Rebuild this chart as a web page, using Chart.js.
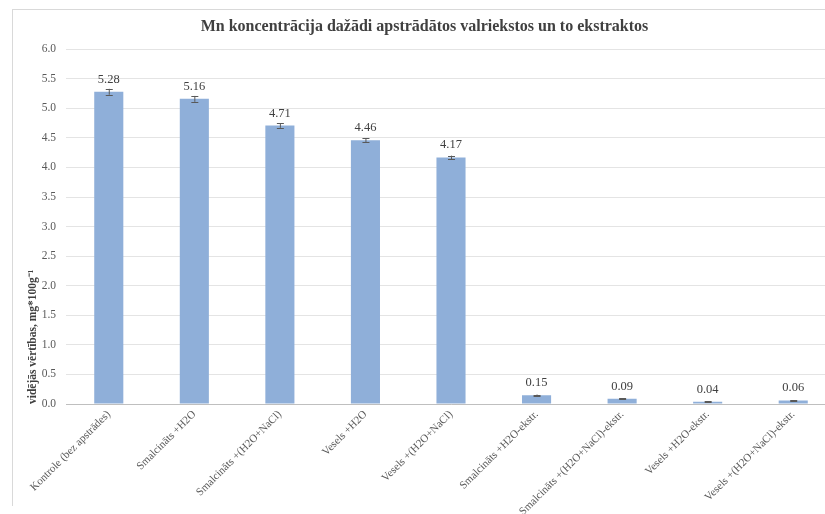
<!DOCTYPE html>
<html>
<head>
<meta charset="utf-8">
<script src="https://cdn.jsdelivr.net/npm/chart.js@4"></script>
<style>
  html, body { margin: 0; padding: 0; background: #fff; overflow: hidden; width: 825px; height: 514px; }
  #frame { position: absolute; left: 12px; top: 9px; width: 840px; height: 496px;
           border-left: 1px solid #d9d9d9; border-top: 1px solid #d9d9d9; }
  #mnChart { position: absolute; left: 0; top: 0; }
</style>
</head>
<body>
<div id="frame"><canvas id="mnChart" width="840" height="505"></canvas></div>
<script>
// Dati no attēla
const categories = [
    "Kontrole (bez apstrādes)",
    "Smalcināts +H2O",
    "Smalcināts +(H2O+NaCl)",
    "Vesels +H2O",
    "Vesels +(H2O+NaCl)",
    "Smalcināts +H2O-ekstr.",
    "Smalcināts +(H2O+NaCl)-ekstr.",
    "Vesels +H2O-ekstr.",
    "Vesels +(H2O+NaCl)-ekstr."
];
const meanValues = [5.28, 5.16, 4.71, 4.46, 4.17, 0.15, 0.09, 0.04, 0.06];
const errorValues = [0.05, 0.05, 0.04, 0.03, 0.03, 0.01, 0.005, 0.003, 0.005];
const yTicks = [0, 0.5, 1, 1.5, 2, 2.5, 3, 3.5, 4, 4.5, 5, 5.5, 6];

const serif = "'Liberation Serif', 'Times New Roman', serif";

// kļūdu joslas un vērtību etiķetes
const barExtras = {
    id: 'barExtras',
    afterDatasetsDraw(chart) {
        const ctx = chart.ctx;
        const y = chart.scales.y;
        const meta = chart.getDatasetMeta(0);
        ctx.save();
        meta.data.forEach((bar, i) => {
            const v = meanValues[i];
            const e = errorValues[i];
            const yTop = y.getPixelForValue(v + e);
            const yBot = y.getPixelForValue(v - e);
            ctx.strokeStyle = '#595959';
            ctx.lineWidth = 1;
            ctx.beginPath();
            ctx.moveTo(bar.x + 0.5, yTop);
            ctx.lineTo(bar.x + 0.5, yBot);
            ctx.moveTo(bar.x - 3, Math.round(yTop) + 0.5);
            ctx.lineTo(bar.x + 4, Math.round(yTop) + 0.5);
            ctx.moveTo(bar.x - 3, Math.round(yBot) + 0.5);
            ctx.lineTo(bar.x + 4, Math.round(yBot) + 0.5);
            ctx.stroke();

            ctx.fillStyle = '#404040';
            ctx.font = "12.5px " + serif;
            ctx.textAlign = 'center';
            ctx.textBaseline = 'bottom';
            ctx.fillText(v.toFixed(2), bar.x, y.getPixelForValue(v) - 6);
        });
        ctx.restore();
    }
};

new Chart(document.getElementById('mnChart'), {
    type: 'bar',
    data: {
        labels: categories,
        datasets: [{
            data: meanValues,
            backgroundColor: '#8FAFD9',
            borderWidth: 0,
            barPercentage: 0.34,
            categoryPercentage: 1
        }]
    },
    options: {
        responsive: false,
        animation: false,
        layout: { padding: { left: 0, right: 17, top: 0, bottom: 0 } },
        plugins: {
            legend: { display: false },
            tooltip: { enabled: false },
            title: {
                display: true,
                text: 'Mn koncentrācija dažādi apstrādātos valriekstos un to ekstraktos',
                color: '#404040',
                font: { family: serif, size: 16, weight: 'bold' },
                padding: { top: 7, bottom: 13 }
            }
        },
        scales: {
            x: {
                grid: { display: false, drawTicks: false },
                border: { color: '#bfbfbf', width: 1 },
                ticks: {
                    color: '#595959',
                    font: { family: serif, size: 11 },
                    maxRotation: 45, minRotation: 45,
                    padding: 4,
                    autoSkip: false
                },
                afterFit: (scale) => { scale.height = 111; }
            },
            y: {
                min: 0, max: 6,
                afterBuildTicks: (scale) => { scale.ticks = yTicks.map(v => ({ value: v })); },
                grid: { color: '#e4e4e4', drawTicks: false },
                border: { display: false },
                ticks: {
                    color: '#595959',
                    font: { family: serif, size: 11.5 },
                    padding: 10,
                    callback: (v) => Number(v).toFixed(1)
                },
                title: {
                    display: true,
                    text: 'vidējās vērtības, mg*100g⁻¹',
                    align: 'start',
                    color: '#404040',
                    font: { family: serif, size: 11.5, weight: 'bold' },
                    padding: { top: 13, bottom: 0 }
                },
                afterFit: (scale) => { scale.width = 53; }
            }
        }
    },
    plugins: [barExtras]
});
</script>
</body>
</html>
